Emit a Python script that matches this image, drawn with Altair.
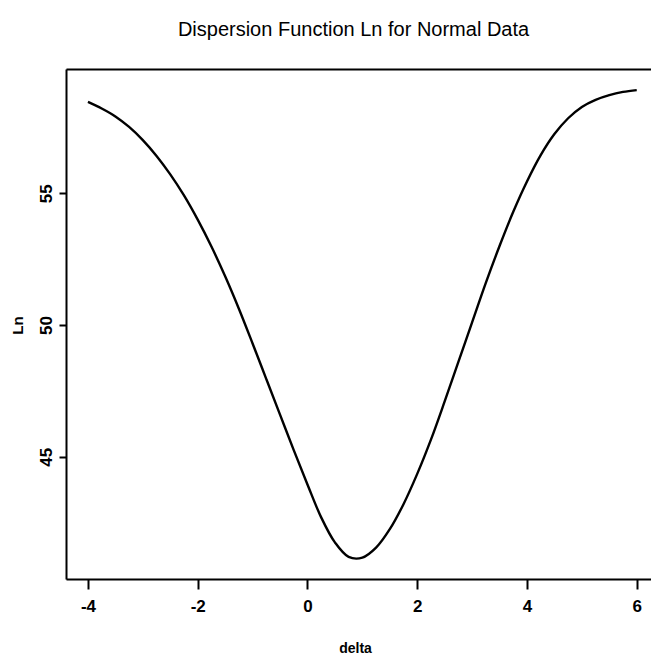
import altair as alt
import pandas as pd

delta = [-4.00, -3.75, -3.50, -3.25, -3.00, -2.75, -2.50, -2.25, -2.00, -1.75,
         -1.50, -1.25, -1.00, -0.75, -0.50, -0.25, 0.00, 0.25, 0.50, 0.75,
         1.00, 1.25, 1.50, 1.75, 2.00, 2.25, 2.50, 2.75, 3.00, 3.25,
         3.50, 3.75, 4.00, 4.25, 4.50, 4.75, 5.00, 5.25, 5.50, 5.75, 6.00]
ln_vals = [58.47, 58.22, 57.92, 57.52, 57.02, 56.42, 55.72, 54.92, 54.00, 52.98,
           51.85, 50.62, 49.30, 47.95, 46.60, 45.25, 43.95, 42.70, 41.75, 41.20,
           41.17, 41.55, 42.25, 43.20, 44.35, 45.65, 47.10, 48.60, 50.10, 51.60,
           53.00, 54.30, 55.45, 56.45, 57.25, 57.85, 58.28, 58.55, 58.73, 58.85, 58.92]
x_ticks = [-4, -2, 0, 2, 4, 6]
y_ticks = [45, 50, 55]

df = pd.DataFrame({"delta": delta, "Ln": ln_vals})

FONT = "Liberation Sans Narrow, Arial Narrow, Liberation Sans, sans-serif"
xdom = [-4.4, 6.26]
ydom = [40.36, 59.72]
label_expr = "datum.value < 0 ? '-' + abs(datum.value) : '' + datum.value"

base = alt.Chart(df)

line = base.mark_line(color="black", strokeWidth=2.4, interpolate="catmull-rom").encode(
    x=alt.X("delta:Q", scale=alt.Scale(domain=xdom, nice=False, zero=False),
            axis=alt.Axis(values=x_ticks, orient="bottom", grid=False, title="delta",
                          labelExpr=label_expr,
                          domainColor="black", domainWidth=2, tickColor="black",
                          tickWidth=2, tickSize=10, labelPadding=9,
                          labelFont=FONT, labelFontSize=17, labelFontWeight="bold",
                          labelColor="black", labelFlush=False,
                          titleFont=FONT, titleFontSize=14, titleFontWeight="bold",
                          titleColor="black", titleX=289, titleY=69,
                          titleBaseline="middle", titleAlign="center")),
    y=alt.Y("Ln:Q", scale=alt.Scale(domain=ydom, nice=False, zero=False),
            axis=alt.Axis(values=y_ticks, orient="left", grid=False, title="Ln",
                          domainColor="black", domainWidth=2, tickColor="black",
                          tickWidth=2, tickSize=7, labelPadding=4, labelAngle=270,
                          labelAlign="center", labelBaseline="bottom",
                          labelFont=FONT, labelFontSize=17, labelFontWeight="bold",
                          labelColor="black", labelFlush=False,
                          titleFont=FONT, titleFontSize=15, titleFontWeight="bold",
                          titleColor="black", titleX=-49, titleY=256, titleAngle=270,
                          titleBaseline="middle", titleAlign="center")),
)

top = base.mark_line(strokeOpacity=0).encode(
    x=alt.X("delta:Q", scale=alt.Scale(domain=xdom, nice=False, zero=False),
            axis=alt.Axis(orient="top", labels=False, ticks=False, grid=False, title=None,
                          domainColor="black", domainWidth=2)),
    y=alt.Y("Ln:Q", scale=alt.Scale(domain=ydom, nice=False, zero=False)),
)

chart = alt.layer(line, top).resolve_scale(x="independent").resolve_axis(x="independent").properties(
    width=585, height=510,
    autosize=alt.AutoSizeParams(type="none"),
    padding={"left": 66, "top": 69, "right": 0, "bottom": 78},
    title=alt.TitleParams("Dispersion Function Ln for Normal Data", font=FONT, fontSize=20,
                          fontWeight="normal", color="black", anchor="middle", offset=29, dx=-5),
).configure_view(stroke=None).configure(background="white")

chart.save("out.html", embed_options={"renderer": "svg", "actions": False})
